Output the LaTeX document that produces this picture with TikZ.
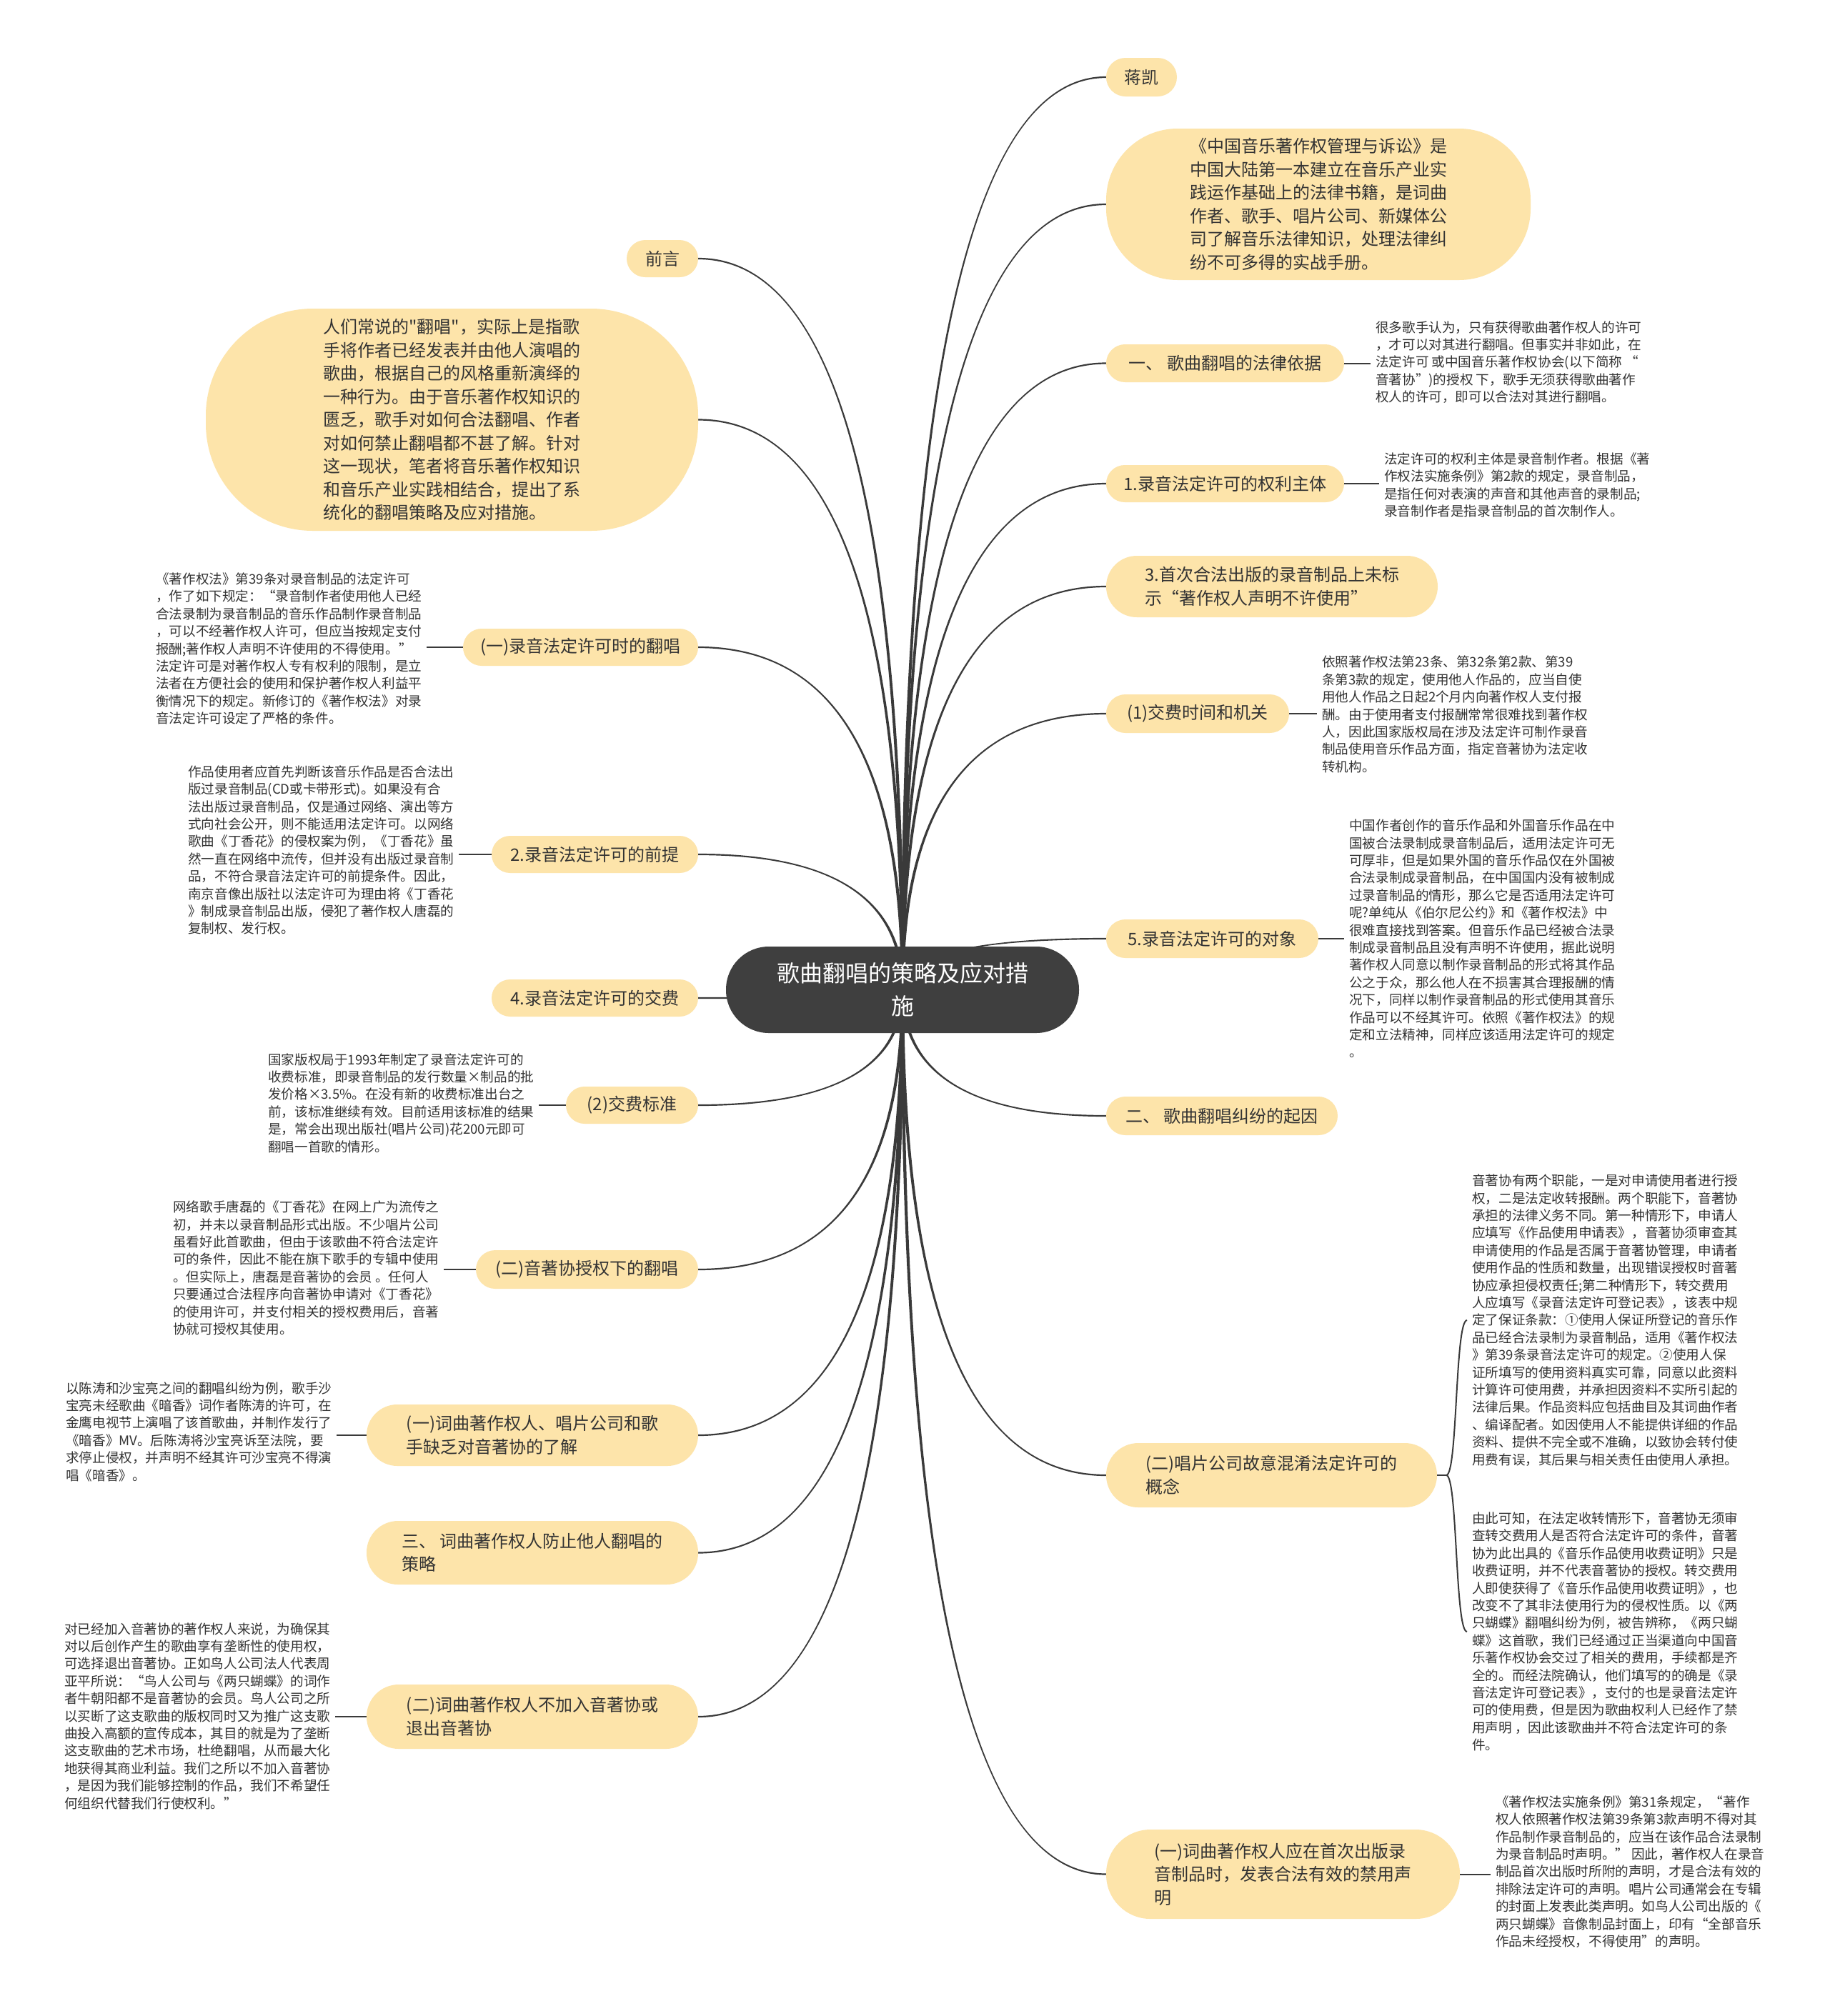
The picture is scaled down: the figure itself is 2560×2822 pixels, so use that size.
\documentclass[tikz,border=0pt]{standalone}
\usepackage{fontspec}
\newfontfamily\cjkf{Noto Sans CJK SC}
\usetikzlibrary{calc}
\pgfdeclarelayer{bg}
\pgfsetlayers{bg,main}
\definecolor{pillc}{HTML}{FDE4AA}
\definecolor{rootc}{HTML}{3F3F3F}
\definecolor{linec}{HTML}{3A3A3A}
\definecolor{txtc}{HTML}{333333}
\tikzset{
  pill/.style={fill=pillc, text=txtc, inner sep=0pt, align=left, font=\cjkf\fontsize{24}{32.5}\selectfont, rounded corners=#1, anchor=center},
  note/.style={text=txtc, inner xsep=7pt, inner ysep=0pt, align=left, font=\cjkf\fontsize{18.6}{24.4}\selectfont, anchor=west},
  conn/.style={draw=linec, line width=2pt},
  rootbox/.style={fill=rootc, text=white, inner sep=0pt, align=center, font=\cjkf\fontsize{32}{46}\selectfont, rounded corners=60pt, minimum width=494pt, minimum height=121pt},
}
% tapered branch from root centre to a named anchor; #2 = side sign
\newcommand\branchto[2]{\fill[linec]
  ($(root.center)+(-2.2,0)$)
  .. controls ($(root.center |- #1)!0.333!(root.center) + (-2.2,0)$)
  and ($(root.center |- #1)!0.333!(#1) + (0,#2*1.1)$)
  .. ($(#1)+(0,#2*1.1)$)
  -- ($(#1)+(0,-#2*1.1)$)
  .. controls ($(root.center |- #1)!0.333!(#1) + (0,-#2*1.1)$)
  and ($(root.center |- #1)!0.333!(root.center) + (2.2,0)$)
  .. ($(root.center)+(2.2,0)$) -- cycle;}
\begin{document}
\begin{tikzpicture}[x=1pt,y=-1pt]
\begin{pgfonlayer}{bg}
\fill[white] (0,0) rectangle (2560,2822);
\end{pgfonlayer}
\useasboundingbox (0,0) rectangle (2560,2822);

% root
\node[rootbox] (root) at (1263,1385.5) {歌曲翻唱的策略及应对措\\施};

% right pills
\node[pill=27pt, minimum width=99pt, minimum height=54pt] (R1) at (1597.5,108) {蒋凯};
\node[pill=100pt, minimum width=594pt, minimum height=212pt] (R2) at (1845,286) {《中国音乐著作权管理与诉讼》是\\
中国大陆第一本建立在音乐产业实\\
践运作基础上的法律书籍，是词曲\\
作者、歌手、唱片公司、新媒体公\\
司了解音乐法律知识，处理法律纠\\
纷不可多得的实战手册。};
\node[pill=26.5pt, minimum width=333pt, minimum height=53pt] (R3) at (1714.5,508.5) {一、 歌曲翻唱的法律依据};
\node[pill=26pt, minimum width=333pt, minimum height=52pt] (R4) at (1714.5,677) {1.录音法定许可的权利主体};
\node[pill=43pt, minimum width=464pt, minimum height=86pt] (R5) at (1780,821) {3.首次合法出版的录音制品上未标\\示“著作权人声明不许使用”};
\node[pill=27pt, minimum width=256pt, minimum height=54pt] (R6) at (1676,999) {(1)交费时间和机关};
\node[pill=27pt, minimum width=297pt, minimum height=54pt] (R7) at (1696.5,1314) {5.录音法定许可的对象};
\node[pill=27pt, minimum width=324pt, minimum height=54pt] (R8) at (1710,1562) {二、 歌曲翻唱纠纷的起因};
\node[pill=45pt, minimum width=463pt, minimum height=90pt] (R9) at (1779.5,2065) {(二)唱片公司故意混淆法定许可的\\概念};
\node[pill=62pt, minimum width=495pt, minimum height=125pt] (R10) at (1795.5,2623.5) {(一)词曲著作权人应在首次出版录\\音制品时，发表合法有效的禁用声\\明};

% left pills
\node[pill=26pt, minimum width=100pt, minimum height=52pt] (L1) at (927,362) {前言};
\node[pill=150pt, minimum width=689pt, minimum height=311pt] (L2) at (632.5,587.5) {人们常说的"翻唱"，实际上是指歌\\
手将作者已经发表并由他人演唱的\\
歌曲，根据自己的风格重新演绎的\\
一种行为。由于音乐著作权知识的\\
匮乏，歌手对如何合法翻唱、作者\\
对如何禁止翻唱都不甚了解。针对\\
这一现状，笔者将音乐著作权知识\\
和音乐产业实践相结合，提出了系\\
统化的翻唱策略及应对措施。};
\node[pill=26pt, minimum width=329pt, minimum height=52pt] (L3) at (812.5,906) {(一)录音法定许可时的翻唱};
\node[pill=26pt, minimum width=289pt, minimum height=52pt] (L4) at (832.5,1196) {2.录音法定许可的前提};
\node[pill=26pt, minimum width=289pt, minimum height=52pt] (L5) at (832.5,1397) {4.录音法定许可的交费};
\node[pill=26pt, minimum width=185pt, minimum height=52pt] (L6) at (884.5,1547) {(2)交费标准};
\node[pill=27pt, minimum width=311pt, minimum height=54pt] (L7) at (821.5,1777) {(二)音著协授权下的翻唱};
\node[pill=43pt, minimum width=464pt, minimum height=86pt] (L8) at (745,2009) {(一)词曲著作权人、唱片公司和歌\\手缺乏对音著协的了解};
\node[pill=44pt, minimum width=464pt, minimum height=89pt] (L9) at (745,2173.5) {三、 词曲著作权人防止他人翻唱的\\策略};
\node[pill=45pt, minimum width=464pt, minimum height=90pt] (L10) at (745,2403) {(二)词曲著作权人不加入音著协或\\退出音著协};

% right notes
\node[note] (D3) at (1918,507) {很多歌手认为，只有获得歌曲著作权人的许可\\
，才可以对其进行翻唱。但事实并非如此，在\\
法定许可 或中国音乐著作权协会(以下简称 “\\
音著协”)的授权 下，歌手无须获得歌曲著作\\
权人的许可，即可以合法对其进行翻唱。};
\node[note] (D4) at (1930,679) {法定许可的权利主体是录音制作者。根据《著\\
作权法实施条例》第2款的规定，录音制品，\\
是指任何对表演的声音和其他声音的录制品;\\
录音制作者是指录音制品的首次制作人。};
\node[note] (D6) at (1843,1000) {依照著作权法第23条、第32条第2款、第39\\
条第3款的规定，使用他人作品的，应当自使\\
用他人作品之日起2个月内向著作权人支付报\\
酬。由于使用者支付报酬常常很难找到著作权\\
人，因此国家版权局在涉及法定许可制作录音\\
制品使用音乐作品方面，指定音著协为法定收\\
转机构。};
\node[note] (D7) at (1881,1314) {中国作者创作的音乐作品和外国音乐作品在中\\
国被合法录制成录音制品后，适用法定许可无\\
可厚非，但是如果外国的音乐作品仅在外国被\\
合法录制成录音制品，在中国国内没有被制成\\
过录音制品的情形，那么它是否适用法定许可\\
呢?单纯从《伯尔尼公约》和《著作权法》中\\
很难直接找到答案。但音乐作品已经被合法录\\
制成录音制品且没有声明不许使用，据此说明\\
著作权人同意以制作录音制品的形式将其作品\\
公之于众，那么他人在不损害其合理报酬的情\\
况下，同样以制作录音制品的形式使用其音乐\\
作品可以不经其许可。依照《著作权法》的规\\
定和立法精神，同样应该适用法定许可的规定\\
。};
\node[note] (D9a) at (2053,1848) {音著协有两个职能，一是对申请使用者进行授\\
权，二是法定收转报酬。两个职能下，音著协\\
承担的法律义务不同。第一种情形下，申请人\\
应填写《作品使用申请表》，音著协须审查其\\
申请使用的作品是否属于音著协管理，申请者\\
使用作品的性质和数量，出现错误授权时音著\\
协应承担侵权责任;第二种情形下，转交费用\\
人应填写《录音法定许可登记表》，该表中规\\
定了保证条款：①使用人保证所登记的音乐作\\
品已经合法录制为录音制品，适用《著作权法\\
》第39条录音法定许可的规定。②使用人保\\
证所填写的使用资料真实可靠，同意以此资料\\
计算许可使用费，并承担因资料不实所引起的\\
法律后果。作品资料应包括曲目及其词曲作者\\
、编译配者。如因使用人不能提供详细的作品\\
资料、提供不完全或不准确，以致协会转付使\\
用费有误，其后果与相关责任由使用人承担。};
\node[note] (D9b) at (2053,2284) {由此可知，在法定收转情形下，音著协无须审\\
查转交费用人是否符合法定许可的条件，音著\\
协为此出具的《音乐作品使用收费证明》只是\\
收费证明，并不代表音著协的授权。转交费用\\
人即使获得了《音乐作品使用收费证明》，也\\
改变不了其非法使用行为的侵权性质。以《两\\
只蝴蝶》翻唱纠纷为例，被告辨称，《两只蝴\\
蝶》这首歌，我们已经通过正当渠道向中国音\\
乐著作权协会交过了相关的费用，手续都是齐\\
全的。而经法院确认，他们填写的的确是《录\\
音法定许可登记表》，支付的也是录音法定许\\
可的使用费，但是因为歌曲权利人已经作了禁\\
用声明 ，因此该歌曲并不符合法定许可的条\\
件。};
\node[note] (D10) at (2086,2620) {《著作权法实施条例》第31条规定，“著作\\
权人依照著作权法第39条第3款声明不得对其\\
作品制作录音制品的，应当在该作品合法录制\\
为录音制品时声明。” 因此，著作权人在录音\\
制品首次出版时所附的声明，才是合法有效的\\
排除法定许可的声明。唱片公司通常会在专辑\\
的封面上发表此类声明。如鸟人公司出版的《\\
两只蝴蝶》音像制品封面上，印有“全部音乐\\
作品未经授权，不得使用”的声明。};

% left notes
\node[note] (E3) at (211,908) {《著作权法》第39条对录音制品的法定许可\\
，作了如下规定：“录音制作者使用他人已经\\
合法录制为录音制品的音乐作品制作录音制品\\
，可以不经著作权人许可，但应当按规定支付\\
报酬;著作权人声明不许使用的不得使用。”\\
法定许可是对著作权人专有权利的限制，是立\\
法者在方便社会的使用和保护著作权人利益平\\
衡情况下的规定。新修订的《著作权法》对录\\
音法定许可设定了严格的条件。};
\node[note] (E4) at (256,1190) {作品使用者应首先判断该音乐作品是否合法出\\
版过录音制品(CD或卡带形式)。如果没有合\\
法出版过录音制品，仅是通过网络、演出等方\\
式向社会公开，则不能适用法定许可。以网络\\
歌曲《丁香花》的侵权案为例，《丁香花》虽\\
然一直在网络中流传，但并没有出版过录音制\\
品，不符合录音法定许可的前提条件。因此，\\
南京音像出版社以法定许可为理由将《丁香花\\
》制成录音制品出版，侵犯了著作权人唐磊的\\
复制权、发行权。};
\node[note] (E6) at (368,1544) {国家版权局于1993年制定了录音法定许可的\\
收费标准，即录音制品的发行数量×制品的批\\
发价格×3.5\%。在没有新的收费标准出台之\\
前，该标准继续有效。目前适用该标准的结果\\
是，常会出现出版社(唱片公司)花200元即可\\
翻唱一首歌的情形。};
\node[note] (E7) at (235,1775) {网络歌手唐磊的《丁香花》在网上广为流传之\\
初，并未以录音制品形式出版。不少唱片公司\\
虽看好此首歌曲，但由于该歌曲不符合法定许\\
可的条件，因此不能在旗下歌手的专辑中使用\\
。但实际上，唐磊是音著协的会员 。任何人\\
只要通过合法程序向音著协申请对《丁香花》\\
的使用许可，并支付相关的授权费用后，音著\\
协就可授权其使用。};
\node[note] (E8) at (85,2004) {以陈涛和沙宝亮之间的翻唱纠纷为例，歌手沙\\
宝亮未经歌曲《暗香》词作者陈涛的许可，在\\
金鹰电视节上演唱了该首歌曲，并制作发行了\\
《暗香》MV。后陈涛将沙宝亮诉至法院，要\\
求停止侵权，并声明不经其许可沙宝亮不得演\\
唱《暗香》。};
\node[note] (E10) at (83,2402) {对已经加入音著协的著作权人来说，为确保其\\
对以后创作产生的歌曲享有垄断性的使用权，\\
可选择退出音著协。正如鸟人公司法人代表周\\
亚平所说：“鸟人公司与《两只蝴蝶》的词作\\
者牛朝阳都不是音著协的会员。鸟人公司之所\\
以买断了这支歌曲的版权同时又为推广这支歌\\
曲投入高额的宣传成本，其目的就是为了垄断\\
这支歌曲的艺术市场，杜绝翻唱，从而最大化\\
地获得其商业利益。我们之所以不加入音著协\\
，是因为我们能够控制的作品，我们不希望任\\
何组织代替我们行使权利。”};

\coordinate (F9) at (2024,2065);

\begin{pgfonlayer}{bg}
\branchto{R1.west}{-1}
\branchto{R2.west}{-1}
\branchto{R3.west}{-1}
\branchto{R4.west}{-1}
\branchto{R5.west}{-1}
\branchto{R6.west}{-1}
\branchto{R7.west}{-1}
\branchto{R8.west}{1}
\branchto{R9.west}{1}
\branchto{R10.west}{1}
\branchto{L1.east}{1}
\branchto{L2.east}{1}
\branchto{L3.east}{1}
\branchto{L4.east}{1}
\branchto{L5.east}{-1}
\branchto{L6.east}{-1}
\branchto{L7.east}{-1}
\branchto{L8.east}{-1}
\branchto{L9.east}{-1}
\branchto{L10.east}{-1}
\end{pgfonlayer}

\draw[conn] (R3.east) -- (R3.east -| D3.west);
\draw[conn] (R4.east) -- (R4.east -| D4.west);
\draw[conn] (R6.east) -- (R6.east -| D6.west);
\draw[conn] (R7.east) -- (R7.east -| D7.west);
\draw[conn] (R10.east) -- (R10.east -| D10.west);
\draw[conn] (R9.east) -- (F9);
\draw[conn] (F9) .. controls (2040,2065) and (2036,1848) .. (D9a.west);
\draw[conn] (F9) .. controls (2040,2065) and (2036,2284) .. (D9b.west);
\draw[conn] (L3.west) -- (L3.west -| E3.east);
\draw[conn] (L4.west) -- (L4.west -| E4.east);
\draw[conn] (L6.west) -- (L6.west -| E6.east);
\draw[conn] (L7.west) -- (L7.west -| E7.east);
\draw[conn] (L8.west) -- (L8.west -| E8.east);
\draw[conn] (L10.west) -- (L10.west -| E10.east);
\end{tikzpicture}
\end{document}
